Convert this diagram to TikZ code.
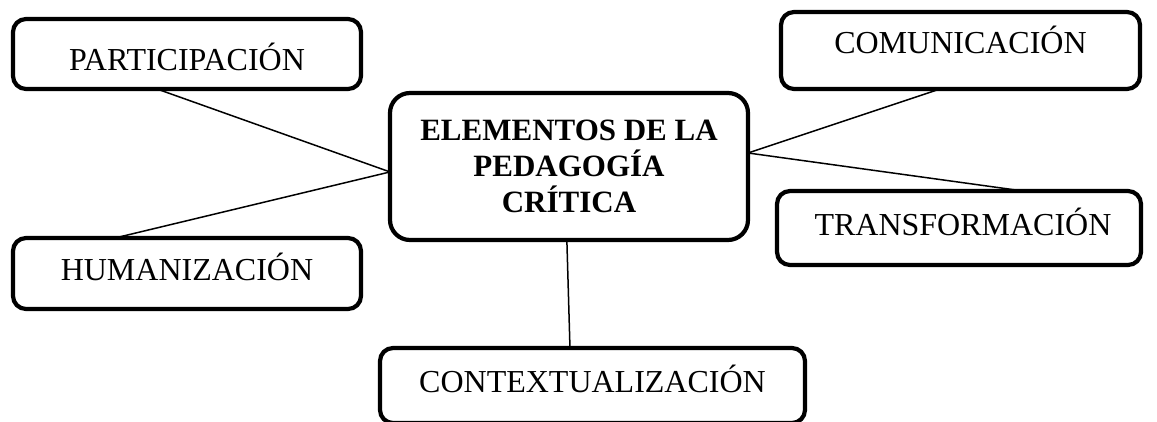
\documentclass[tikz,border=0pt]{standalone}
\usepackage{fontspec}
\setmainfont{Liberation Serif}
\usetikzlibrary{calc}
\begin{document}
\begin{tikzpicture}[x=1pt,y=-1pt,
  box/.style={draw=black,fill=white,line width=4.2pt,rounded corners=13pt,
    inner sep=0pt,outer sep=0pt,text depth=0pt,
    font=\fontsize{32}{36}\selectfont},
  link/.style={draw=black,line width=1.5pt}]
\clip (0,0) rectangle (1157,421);
\fill[white] (0,0) rectangle (1157,421);
% boxes
\node[box,minimum width=348pt,minimum height=70pt,text height=32pt] (part) at (187,54) {PARTICIPACIÓN};
\node[box,minimum width=359pt,minimum height=77pt,text height=5pt] (com) at (960.5,50.5) {COMUNICACIÓN};
\node[box,minimum width=364pt,minimum height=74pt,text height=14pt] (trans) at (959,228) {\hspace*{8pt}TRANSFORMACIÓN};
\node[box,minimum width=348pt,minimum height=71pt,text height=13pt] (hum) at (187,273.5) {HUMANIZACIÓN};
\node[box,minimum width=425pt,minimum height=75pt,text height=13pt] (cont) at (592.5,385.5) {CONTEXTUALIZACIÓN};
\node[box,rounded corners=20pt,minimum width=358pt,minimum height=147pt,
  align=center,text height=91pt,text depth=0pt,
  font=\fontsize{31}{36}\selectfont\bfseries] (c) at (569,166.5)
  {ELEMENTOS DE LA\\PEDAGOGÍA\\CRÍTICA};
% connectors
\draw[link] ($(part.south west)!0.414!(part.south east)$) -- ($(c.north west)!0.537!(c.south west)$);
\draw[link] ($(hum.north west)!0.293!(hum.north east)$) -- ($(c.north west)!0.537!(c.south west)$);
\draw[link] ($(com.south west)!0.443!(com.south east)$) -- ($(c.north east)!0.408!(c.south east)$);
\draw[link] ($(trans.north west)!0.676!(trans.north east)$) -- ($(c.north east)!0.408!(c.south east)$);
\draw[link] ($(c.south west)!0.494!(c.south east)$) -- ($(cont.north west)!0.447!(cont.north east)$);
\end{tikzpicture}
\end{document}
